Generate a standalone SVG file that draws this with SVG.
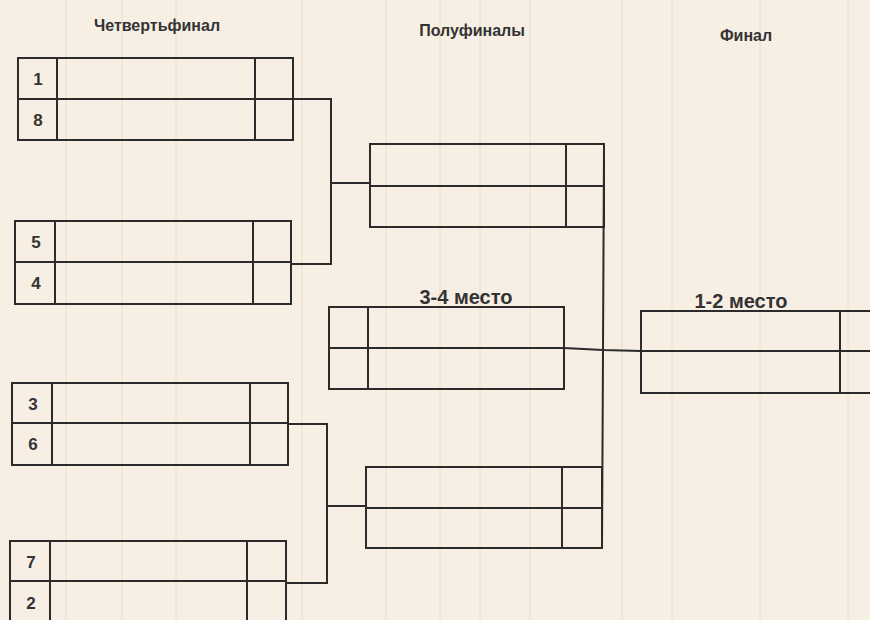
<svg xmlns="http://www.w3.org/2000/svg" width="870" height="620" viewBox="0 0 870 620">
<style>
.ln{fill:none;stroke:#2b2b2b;stroke-width:2}
.t{font-family:"Liberation Sans",Arial,sans-serif;font-weight:bold;fill:#333}
.h{font-size:16px;text-anchor:middle}
.p{font-size:20px;text-anchor:middle}
.n{font-size:17px;text-anchor:middle}
.bg{stroke:#ecdccd;stroke-width:1}
</style>
<rect width="870" height="620" fill="#f7efe4"/>
<g id="texture">
<line class="bg" x1="66" y1="0" x2="66" y2="620"/>
<line class="bg" x1="122" y1="0" x2="122" y2="620"/>
<line class="bg" x1="176" y1="0" x2="176" y2="620"/>
<line class="bg" x1="302" y1="0" x2="302" y2="620"/>
<line class="bg" x1="386" y1="0" x2="386" y2="620"/>
<line class="bg" x1="440" y1="0" x2="440" y2="620"/>
<line class="bg" x1="480" y1="0" x2="480" y2="620"/>
<line class="bg" x1="530" y1="0" x2="530" y2="620"/>
<line class="bg" x1="622" y1="0" x2="622" y2="620"/>
<line class="bg" x1="672" y1="0" x2="672" y2="620"/>
<line class="bg" x1="760" y1="0" x2="760" y2="620"/>
<line class="bg" x1="848" y1="0" x2="848" y2="620"/>
</g>
<g id="titles">
<text class="t h" x="157" y="31">Четвертьфинал</text>
<text class="t h" x="472" y="36">Полуфиналы</text>
<text class="t h" x="746" y="41">Финал</text>
</g>
<g id="qf1">
<rect class="ln" x="18" y="58" width="275" height="82"/>
<line class="ln" x1="18" y1="99" x2="293" y2="99"/>
<line class="ln" x1="57" y1="58" x2="57" y2="140"/>
<line class="ln" x1="255" y1="58" x2="255" y2="140"/>
<text class="t n" x="38" y="85">1</text>
<text class="t n" x="38" y="126">8</text>
</g>
<g id="qf2">
<rect class="ln" x="15" y="221" width="276" height="83"/>
<line class="ln" x1="15" y1="262" x2="291" y2="262"/>
<line class="ln" x1="55" y1="221" x2="55" y2="304"/>
<line class="ln" x1="253" y1="221" x2="253" y2="304"/>
<text class="t n" x="36" y="248">5</text>
<text class="t n" x="36" y="289">4</text>
</g>
<g id="qf3">
<rect class="ln" x="12" y="383" width="276" height="82"/>
<line class="ln" x1="12" y1="423" x2="288" y2="423"/>
<line class="ln" x1="52" y1="383" x2="52" y2="465"/>
<line class="ln" x1="250" y1="383" x2="250" y2="465"/>
<text class="t n" x="33" y="410">3</text>
<text class="t n" x="33" y="450">6</text>
</g>
<g id="qf4">
<rect class="ln" x="10" y="541" width="276" height="84"/>
<line class="ln" x1="10" y1="581" x2="286" y2="581"/>
<line class="ln" x1="50" y1="541" x2="50" y2="625"/>
<line class="ln" x1="247" y1="541" x2="247" y2="625"/>
<text class="t n" x="31" y="568">7</text>
<text class="t n" x="31" y="609">2</text>
</g>
<g id="sf1">
<rect class="ln" x="370" y="144" width="234" height="83"/>
<line class="ln" x1="370" y1="186" x2="604" y2="186"/>
<line class="ln" x1="566" y1="144" x2="566" y2="227"/>
</g>
<g id="sf2">
<rect class="ln" x="366" y="467" width="236" height="81"/>
<line class="ln" x1="366" y1="508" x2="602" y2="508"/>
<line class="ln" x1="562" y1="467" x2="562" y2="548"/>
</g>
<g id="third">
<text class="t p" x="466" y="304">3-4 место</text>
<rect class="ln" x="329" y="307" width="235" height="82"/>
<line class="ln" x1="329" y1="348" x2="564" y2="348"/>
<line class="ln" x1="368" y1="307" x2="368" y2="389"/>
</g>
<g id="final">
<text class="t p" x="741" y="308">1-2 место</text>
<rect class="ln" x="641" y="311" width="240" height="82"/>
<line class="ln" x1="641" y1="351" x2="870" y2="351"/>
<line class="ln" x1="840" y1="311" x2="840" y2="393"/>
</g>
<g id="connectors">
<polyline class="ln" points="293,99 331,99 331,264 291,264"/>
<line class="ln" x1="331" y1="183" x2="370" y2="183"/>
<polyline class="ln" points="288,424 327,424 327,583 286,583"/>
<line class="ln" x1="327" y1="506" x2="366" y2="506"/>
<polyline class="ln" points="604,148 603,350 602,548"/>
<polyline class="ln" points="564,348 603,350 641,351"/>
</g>
</svg>
